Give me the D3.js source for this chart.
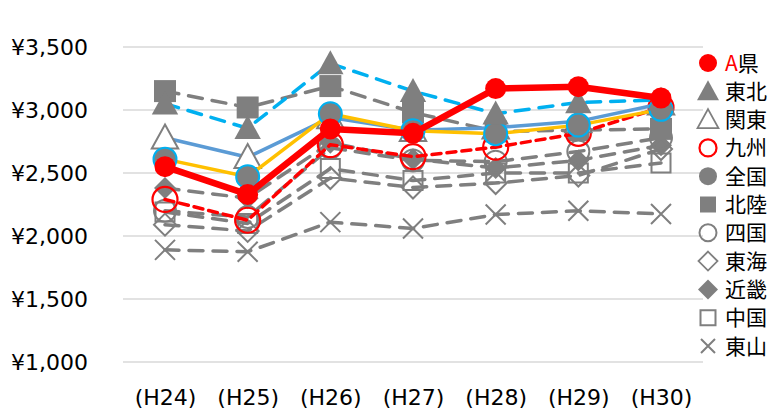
<!DOCTYPE html>
<html><head><meta charset="utf-8">
<script src="https://cdn.jsdelivr.net/npm/d3@7"></script>
<style>body{margin:0;background:#fff}svg{display:block}</style>
</head><body>
<svg id="c" width="774" height="411"></svg>
<script>
const categories = ["(H24)","(H25)","(H26)","(H27)","(H28)","(H29)","(H30)"];
const yTicks = [1000,1500,2000,2500,3000,3500];
const seriesNames = ["A県","東北","関東","九州","全国","北陸","四国","東海","近畿","中国","東山"];
const vA      = [2550,2330,2850,2815,3170,3185,3095];
const vTohoku = [3050,2855,3370,3150,2970,3060,3080];
const vKanto  = [2780,2625,2940,2840,2860,2910,3050];
const vKyushu = [2290,2125,2725,2630,2705,2815,3020];
const vZenkoku= [2610,2470,2970,2836,2812,2880,3005];
const vHokuriku=[3150,3020,3190,2980,2830,2840,2850];
const vShikoku= [2200,2150,2700,2600,2590,2670,2780];
const vTokai  = [2090,2040,2460,2385,2420,2480,2690];
const vKinki   =[2380,2300,2740,2610,2540,2600,2720];
const vChugoku= [2190,2100,2535,2440,2500,2500,2580];
const vTozan  = [1890,1875,2110,2060,2170,2200,2175];

const GRAY="#7f7f7f", CYAN="#00b0f0", BLUE="#5b9bd5", YEL="#ffc000", RED="#ff0000";
const FONT="'Noto Sans CJK JP','Noto Sans',sans-serif";
const AXFONT="'DejaVu Sans',sans-serif";

const svg=d3.select("#c");
const x=d3.scalePoint().domain(categories).range([165,661]);
const y=d3.scaleLinear().domain([1000,3500]).range([362,47]);
const left=123,right=703;

// gridlines
svg.append("g").selectAll("line").data(yTicks).join("line")
  .attr("x1",left).attr("x2",right).attr("y1",d=>y(d)).attr("y2",d=>y(d))
  .attr("stroke","#d9d9d9").attr("stroke-width",1.5);

// y axis
const yAxis=d3.axisLeft(y).tickValues(yTicks).tickSize(0).tickPadding(0)
  .tickFormat(d=>"¥"+d3.format(",")(d));
const gy=svg.append("g").attr("transform","translate(88,0)").call(yAxis);
gy.select(".domain").remove();
gy.selectAll("text").attr("font-family",AXFONT).attr("font-size",22).attr("fill","#000").attr("dy","0.35em");

// x axis
const xAxis=d3.axisBottom(x).tickSize(0).tickPadding(0);
const gx=svg.append("g").attr("transform","translate(0,389)").call(xAxis);
gx.select(".domain").remove();
gx.selectAll("text").attr("font-family",AXFONT).attr("font-size",22).attr("fill","#000").attr("dy","0.71em");

const sym={
  circle:(r)=>d3.symbol(d3.symbolCircle,Math.PI*r*r)(),
  tri:(s)=>`M0,${-s*0.55}L${s*0.55},${s*0.45}L${-s*0.55},${s*0.45}Z`,
  sq:(s)=>`M${-s/2},${-s/2}h${s}v${s}h${-s}Z`,
  dia:(s)=>`M0,${-s/2}L${s/2},0L0,${s/2}L${-s/2},0Z`,
  x:(s)=>`M${-s/2},${-s/2}L${s/2},${s/2}M${s/2},${-s/2}L${-s/2},${s/2}`
};

const series=[
 {name:"東山",v:vTozan,line:GRAY,lw:3.5,dash:"14,10",m:"x",ms:20,fill:"none",st:GRAY,sw:2},
 {name:"中国",v:vChugoku,line:GRAY,lw:3.5,dash:"14,10",m:"sq",ms:19,fill:"none",st:GRAY,sw:2},
 {name:"近畿",v:vKinki,line:GRAY,lw:3.5,dash:"14,10",m:"dia",ms:22,fill:GRAY,st:"none",sw:0},
 {name:"東海",v:vTokai,line:GRAY,lw:3.5,dash:"14,10",m:"dia",ms:22,fill:"none",st:GRAY,sw:2},
 {name:"四国",v:vShikoku,line:GRAY,lw:3.5,dash:"14,10",m:"circle",ms:11,fill:"none",st:GRAY,sw:2},
 {name:"北陸",v:vHokuriku,line:GRAY,lw:3.5,dash:"14,10",m:"sq",ms:22,fill:GRAY,st:"none",sw:0},
 {name:"九州",v:vKyushu,line:RED,lw:3.5,dash:"9,6",m:"circle",ms:12.5,fill:"none",st:RED,sw:2.2},
 {name:"関東",v:vKanto,line:BLUE,lw:3.5,dash:null,m:"tri",ms:24,fill:"#fff",st:GRAY,sw:2},
 {name:"全国",v:vZenkoku,line:YEL,lw:3.5,dash:null,m:"circle",ms:11.5,fill:GRAY,st:CYAN,sw:2},
 {name:"東北",v:vTohoku,line:CYAN,lw:3.5,dash:"14,10",m:"tri",ms:24,fill:GRAY,st:"none",sw:0},
 {name:"A県",v:vA,line:RED,lw:6.5,dash:null,m:"circle",ms:10.5,fill:RED,st:"none",sw:0}
];

const line=d3.line().x((d,i)=>x(categories[i])).y(d=>y(d));
const plot=svg.append("g");
series.forEach(s=>{
  const g=plot.append("g");
  g.append("path").attr("d",line(s.v)).attr("fill","none").attr("stroke",s.line)
    .attr("stroke-width",s.lw).attr("stroke-dasharray",s.dash).attr("stroke-linecap",s.dash?"round":"butt")
    .attr("stroke-linejoin","round");
  g.selectAll("path.m").data(s.v).join("path").attr("class","m")
    .attr("transform",(d,i)=>`translate(${x(categories[i])},${y(d)})`)
    .attr("d",sym[s.m](s.ms)).attr("fill",s.fill).attr("stroke",s.st).attr("stroke-width",s.sw);
});

// legend
const legendMarks={
 "A県":{m:"circle",ms:9,fill:RED,st:"none",sw:0},
 "東北":{m:"tri",ms:20,fill:GRAY,st:"none",sw:0},
 "関東":{m:"tri",ms:19,fill:"#fff",st:GRAY,sw:1.8},
 "九州":{m:"circle",ms:8.5,fill:"none",st:RED,sw:2.2},
 "全国":{m:"circle",ms:9,fill:GRAY,st:"none",sw:0},
 "北陸":{m:"sq",ms:16,fill:GRAY,st:"none",sw:0},
 "四国":{m:"circle",ms:8.5,fill:"none",st:GRAY,sw:2},
 "東海":{m:"dia",ms:19,fill:"none",st:GRAY,sw:1.8},
 "近畿":{m:"dia",ms:20,fill:GRAY,st:"none",sw:0},
 "中国":{m:"sq",ms:15,fill:"none",st:GRAY,sw:2},
 "東山":{m:"x",ms:14,fill:"none",st:GRAY,sw:2}
};
const lg=svg.append("g");
seriesNames.forEach((n,i)=>{
  const cy=63+i*28.3;
  const lm=legendMarks[n];
  lg.append("path").attr("transform",`translate(708,${cy})`).attr("d",sym[lm.m](lm.ms))
    .attr("fill",lm.fill).attr("stroke",lm.st).attr("stroke-width",lm.sw);
  const t=lg.append("text").attr("x",725).attr("y",cy).attr("dy","0.36em")
    .attr("font-family",FONT).attr("font-size",21).attr("fill","#000");
  if(n==="A県"){ t.append("tspan").attr("fill",RED).text("A"); t.append("tspan").text("県"); }
  else t.text(n);
});
</script>
</body></html>
